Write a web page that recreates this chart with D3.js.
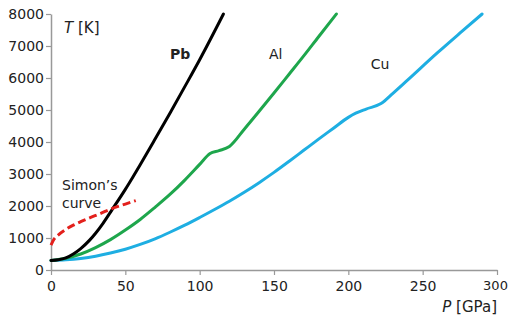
<!DOCTYPE html>
<html>
<head>
<meta charset="utf-8">
<script src="https://cdn.jsdelivr.net/npm/d3@7"></script>
<style>
  body { margin: 0; background: #fff; }
  svg text { font-family: "DejaVu Sans", "Liberation Sans", sans-serif; fill: #222; }
</style>
</head>
<body>
<div id="container"></div>
<script>
const WIDTH = 508;
const HEIGHT = 323;

// melting curves, P in GPa, T in K
const pb = [[0, 300], [5, 320], [10, 380], [15, 500], [20, 670], [26, 934], [30, 1150],
  [35, 1460], [41, 1880], [50, 2520], [55, 2900], [60, 3290], [70, 4090], [80, 4900],
  [90, 5730], [100, 6570], [116, 8000]];
const al = [[0, 300], [10, 370], [20, 500], [30, 700], [40, 950], [50, 1250], [60, 1580],
  [70, 1960], [80, 2360], [90, 2810], [100, 3300], [107, 3640], [113, 3730], [120, 3860],
  [130, 4400], [140, 4960], [150, 5530], [160, 6110], [170, 6690], [180, 7290], [192, 8000]];
const cu = [[0, 300], [10, 318], [20, 360], [30, 430], [40, 530], [50, 650], [60, 800],
  [70, 975], [80, 1180], [90, 1400], [100, 1640], [110, 1890], [120, 2150], [130, 2430],
  [140, 2730], [150, 3050], [160, 3390], [170, 3740], [180, 4090], [190, 4430], [200, 4770],
  [205, 4900], [212, 5030], [222, 5200], [230, 5520], [240, 5940], [260, 6790], [275, 7400],
  [290, 8000]];
const simon = [[0, 780], [2, 960], [5, 1100], [10, 1270], [15, 1400], [20, 1510], [26, 1630],
  [33, 1760], [41, 1920], [50, 2060], [57, 2170]];

const xTicks = [0, 50, 100, 150, 200, 250, 300];
const yTicks = [0, 1000, 2000, 3000, 4000, 5000, 6000, 7000, 8000];

const svg = d3.select("#container")
  .append("svg")
  .attr("width", WIDTH)
  .attr("height", HEIGHT);

const x = d3.scaleLinear().domain([0, 300]).range([51, 497]);
const y = d3.scaleLinear().domain([0, 8000]).range([270, 14]);

const xAxis = svg.append("g")
  .attr("transform", `translate(0,${y(0)})`)
  .call(d3.axisBottom(x).tickValues(xTicks).tickFormat(d3.format("d"))
    .tickSize(5).tickSizeOuter(0).tickPadding(6));

const yAxis = svg.append("g")
  .attr("transform", `translate(${x(0)},0)`)
  .call(d3.axisLeft(y).tickValues(yTicks).tickFormat(d3.format("d"))
    .tickSize(5).tickSizeOuter(0).tickPadding(2));

[xAxis, yAxis].forEach(a => {
  a.select(".domain").attr("stroke", "#999").attr("stroke-width", 1.5);
  a.selectAll(".tick line").attr("stroke", "#999").attr("stroke-width", 1.2);
  a.selectAll(".tick text").style("font-size", "14px").attr("fill", "#222");
});
// last x label sits at the right edge
xAxis.selectAll(".tick text").filter(d => d === 300)
  .style("font-size", "13px").attr("dx", "-2");

const line = d3.line()
  .x(d => x(d[0]))
  .y(d => y(d[1]))
  .curve(d3.curveMonotoneX);

function drawCurve(data, color, dash) {
  svg.append("path")
    .datum(data)
    .attr("d", line)
    .attr("fill", "none")
    .attr("stroke", color)
    .attr("stroke-width", 3)
    .attr("stroke-linecap", dash ? "butt" : "round")
    .attr("stroke-linejoin", "round")
    .attr("stroke-dasharray", dash || null);
}

drawCurve(cu, "#1eaee2");
drawCurve(al, "#1ea64c");
drawCurve(pb, "#000");
drawCurve(simon, "#e3201c", "8,4");

// labels
function label(px, py, str, bold) {
  svg.append("text")
    .attr("x", x(px))
    .attr("y", y(py))
    .style("font-size", "14px")
    .style("font-weight", bold ? "bold" : "normal")
    .text(str);
}
label(80, 6600, "Pb", true);
label(146.6, 6600, "Al");
label(215, 6290, "Cu");
label(7.4, 2490, "Simon\u2019s");
label(7.4, 1930, "curve");

const tLabel = svg.append("text")
  .attr("x", 64).attr("y", 33)
  .style("font-size", "15px");
tLabel.append("tspan").style("font-style", "italic").text("T");
tLabel.append("tspan").text(" [K]");

const pLabel = svg.append("text")
  .attr("x", 497).attr("y", 312)
  .attr("text-anchor", "end")
  .style("font-size", "15px");
pLabel.append("tspan").style("font-style", "italic").text("P");
pLabel.append("tspan").text(" [GPa]");
</script>
</body>
</html>
